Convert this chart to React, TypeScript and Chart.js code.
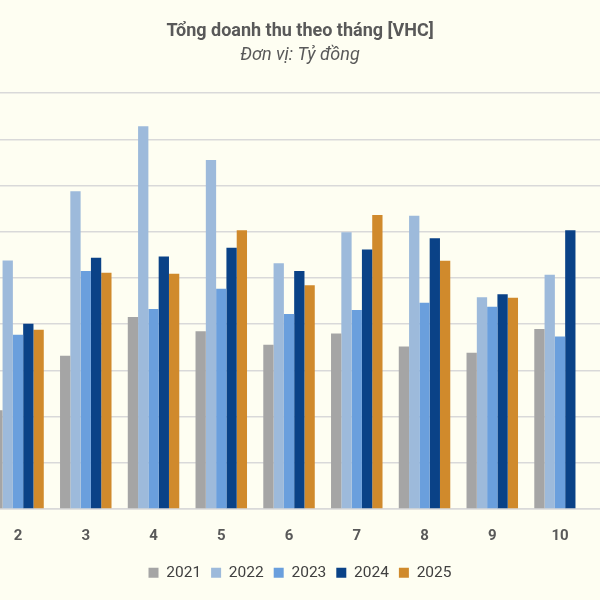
import React, { useEffect, useRef } from "react";
import { Chart, registerables } from "chart.js";

Chart.register(...registerables);

const months = ["1", "2", "3", "4", "5", "6", "7", "8", "9", "10", "11"];
const years = ["2021", "2022", "2023", "2024", "2025"];

// Đơn vị: Tỷ đồng (month 1 and 11 lie outside the visible crop)
const v2021 = [null, 428, 663, 831, 769, 711, 760, 703, 676, 779, null];
const v2022 = [null, 1076, 1376, 1657, 1511, 1064, 1198, 1269, 917, 1014, null];
const v2023 = [null, 754, 1030, 866, 954, 844, 862, 893, 876, 747, null];
const v2024 = [null, 802, 1088, 1093, 1131, 1030, 1123, 1172, 930, 1207, null];
const v2025 = [null, 776, 1023, 1018, 1207, 969, 1273, 1075, 915, null, null];

const colors = ["#A5A5A5", "#9DBADB", "#6A9FDD", "#0A4287", "#D08A2C"];
const FONT = "Roboto, 'Noto Sans', sans-serif";

export default function App() {
  const ref = useRef<HTMLCanvasElement | null>(null);
  useEffect(() => {
    if (!ref.current) return;
    const series = [v2021, v2022, v2023, v2024, v2025];
    const chart = new Chart(ref.current, {
      type: "bar",
      data: {
        labels: months,
        datasets: years.map((y, i) => ({
          label: y,
          data: series[i],
          backgroundColor: colors[i],
          borderWidth: 0,
          barPercentage: 1,
          categoryPercentage: 0.76,
        })),
      },
      options: {
        animation: false,
        responsive: false,
        maintainAspectRatio: false,
        layout: { padding: { left: 6.4, right: 6.4, top: 0, bottom: 9.5 } },
        plugins: {
          title: {
            display: true,
            text: "Tổng doanh thu theo tháng [VHC]",
            color: "#595959",
            font: { family: FONT, size: 18, weight: "bold" },
            padding: { top: 21, bottom: 2 },
          },
          subtitle: {
            display: true,
            text: "Đơn vị: Tỷ đồng",
            color: "#595959",
            font: { family: FONT, size: 18, style: "italic" },
            padding: { top: 0, bottom: 27 },
          },
          legend: {
            position: "bottom",
            labels: {
              boxWidth: 10,
              boxHeight: 10,
              color: "#404040",
              font: { family: FONT, size: 15.5 },
              padding: 10,
            },
          },
          tooltip: { enabled: false },
        },
        scales: {
          x: {
            grid: { display: false },
            border: { display: true, color: "#D9D9D9", width: 1.5 },
            ticks: {
              color: "#595959",
              font: { family: FONT, size: 15, weight: "bold" },
              padding: 10,
            },
          },
          y: {
            min: 0,
            max: 1800,
            ticks: { display: false, stepSize: 200 },
            grid: { color: "#D9D9D9", lineWidth: 1.5, drawTicks: false },
            border: { display: false },
            afterFit: (s: any) => {
              s.width = 0;
            },
          },
          yRight: {
            position: "right",
            min: 0,
            max: 1800,
            ticks: { display: false },
            grid: { display: false },
            border: { display: false },
            afterFit: (s: any) => {
              s.width = 21.95;
            },
          },
        },
      },
    });
    return () => chart.destroy();
  }, []);

  return (
    <div
      style={{
        position: "fixed",
        left: 0,
        top: 0,
        width: 600,
        height: 600,
        overflow: "hidden",
        background: "#FEFEF2",
      }}
    >
      <canvas
        ref={ref}
        width={780}
        height={600}
        style={{ position: "absolute", left: -90, top: 0, width: 780, height: 600 }}
      />
    </div>
  );
}
